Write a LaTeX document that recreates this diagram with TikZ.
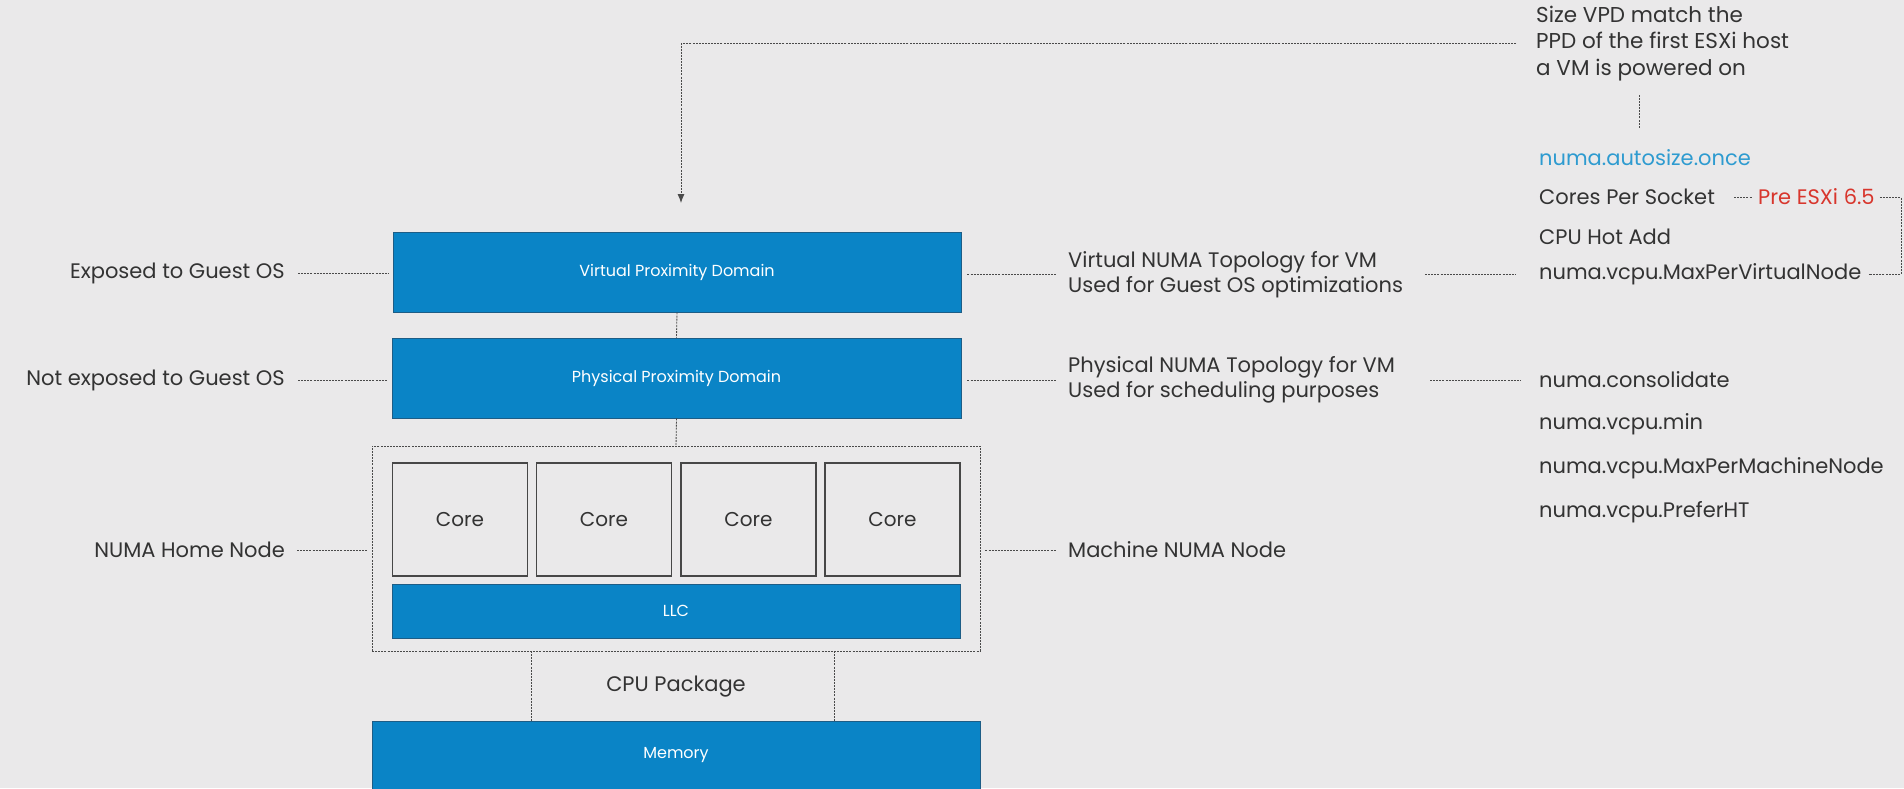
\documentclass[tikz,border=0pt]{standalone}
\usepackage{fontspec}
\setmainfont{Poppins}
\usetikzlibrary{arrows.meta}
\definecolor{bg}{HTML}{EAE9EA}
\definecolor{boxblue}{HTML}{0A84C6}
\definecolor{boxedge}{HTML}{1D5D86}
\definecolor{ink}{HTML}{333333}
\definecolor{linkgray}{HTML}{4A4A4A}
\definecolor{paramblue}{HTML}{2E9BD0}
\definecolor{prered}{HTML}{D8362D}
\begin{document}
\begin{tikzpicture}[x=1pt,y=-1pt,
  conn/.style={draw=linkgray, line width=0.85pt, dash pattern=on 2pt off 1.1pt},
  bluebox/.style={draw=boxedge, fill=boxblue, line width=0.8pt, text=white,
    font=\fontsize{16}{19}\selectfont, inner sep=0pt},
  corebox/.style={draw=ink!90, line width=1.1pt, text=ink,
    font=\fontsize{20}{24}\selectfont, inner sep=0pt,
    minimum width=135pt, minimum height=113pt},
  lbl/.style={text=ink, font=\fontsize{21}{25.5}\selectfont, inner sep=0pt, align=left},
]
% canvas
\fill[bg] (0,0) rectangle (1904,788);
\useasboundingbox (0,0) rectangle (1904,788);

% main stack
\node[bluebox, minimum width=568pt, minimum height=80pt] (vpd) at (677,272) {Virtual Proximity Domain};
\node[bluebox, minimum width=569pt, minimum height=80pt] (ppd) at (676.5,378) {Physical Proximity Domain};
\node[conn, minimum width=608pt, minimum height=205pt, inner sep=0pt] (frame) at (676,548.5) {};
\node[corebox] (core1) at (460,519.5) {Core};
\node[corebox] (core2) at (604,519.5) {Core};
\node[corebox] (core3) at (748.5,519.5) {Core};
\node[corebox] (core4) at (892.5,519.5) {Core};
\node[bluebox, minimum width=568pt, minimum height=54pt] (llc) at (676,611) {LLC};
\node[bluebox, minimum width=608pt, minimum height=68pt] (mem) at (676,755) {Memory};
\node[text=ink, font=\fontsize{21}{25}\selectfont, inner sep=0pt] (pkg) at (676,687) {CPU Package};

\coordinate (pkgL) at (531,651);
\coordinate (pkgR) at (834,651);
\draw[conn] (vpd.south) -- (ppd.north);
\draw[conn] (ppd.south) -- (frame.north);
\draw[conn] (pkgL) -- (pkgL |- mem.north);
\draw[conn] (pkgR) -- (pkgR |- mem.north);

% left labels
\node[lbl, anchor=east] (expo) at (285,273) {Exposed to Guest OS};
\node[lbl, anchor=east] (notexpo) at (285,380) {Not exposed to Guest OS};
\node[lbl, anchor=east] (home) at (285,550) {NUMA Home Node};
\draw[conn, shorten <=13pt, shorten >=4pt] (expo.east) -- (expo.east -| vpd.west);
\draw[conn, shorten <=13pt, shorten >=4pt] (notexpo.east) -- (notexpo.east -| ppd.west);
\draw[conn, shorten <=12pt, shorten >=4pt] (home.east) -- (home.east -| frame.west);

% right labels
\node[lbl, anchor=west] (vtopo) at (1068,274.5) {Virtual NUMA Topology for VM\\Used for Guest OS optimizations};
\node[lbl, anchor=west] (ptopo) at (1068,380) {Physical NUMA Topology for VM\\Used for scheduling purposes};
\node[lbl, anchor=west] (machine) at (1068,550) {Machine NUMA Node};
\draw[conn, shorten <=6pt, shorten >=11pt] (vpd.east |- vtopo.west) -- (vtopo.west);
\draw[conn, shorten <=6pt, shorten >=11pt] (ppd.east |- ptopo.west) -- (ptopo.west);
\draw[conn, shorten <=5pt, shorten >=12pt] (frame.east |- machine.west) -- (machine.west);

% advanced settings column
\node[lbl, anchor=west, text=paramblue] (autosize) at (1539,158) {numa.autosize.once};
\node[lbl, anchor=west] (cps) at (1539,197) {Cores Per Socket};
\node[lbl, anchor=west, text=prered] (pre) at (1758,197) {Pre ESXi 6.5};
\node[lbl, anchor=west] (hotadd) at (1539,237) {CPU Hot Add};
\node[lbl, anchor=west] (maxvn) at (1539,274) {numa.vcpu.MaxPerVirtualNode};
\node[lbl, anchor=west] (consol) at (1539,380) {numa.consolidate};
\node[lbl, anchor=west] (vmin) at (1539,424) {numa.vcpu.min};
\node[lbl, anchor=west] (maxmn) at (1539,468) {numa.vcpu.MaxPerMachineNode};
\node[lbl, anchor=west] (prefht) at (1539,512) {numa.vcpu.PreferHT};

\draw[conn, shorten <=25pt, shorten >=24pt] (1400,274) -- (maxvn.west);
\draw[conn, shorten <=26pt, shorten >=19pt] (1404,380) -- (consol.west);
\draw[conn] ([xshift=-24pt]pre.west) -- ([xshift=-6pt]pre.west);
\coordinate (bend) at (1901,197);
\draw[conn, shorten <=5pt, shorten >=7pt] (pre.east) -- (bend) |- (maxvn.east);

% autosize note and feedback arrow
\node[lbl, anchor=west, font=\fontsize{21.5}{26.5}\selectfont] (sizevpd) at (1536,43.5)
  {Size VPD match the\\PPD of the first ESXi host\\a VM is powered on};
\draw[conn] ([xshift=-6pt,yshift=22pt]autosize.north) -- ([xshift=-6pt,yshift=56pt]autosize.north);
\coordinate (arrowend) at (681,203);
\draw[conn, shorten <=20pt, -{Latex[length=9pt,width=7pt]}] (sizevpd.west) -| (arrowend);
\end{tikzpicture}
\end{document}
